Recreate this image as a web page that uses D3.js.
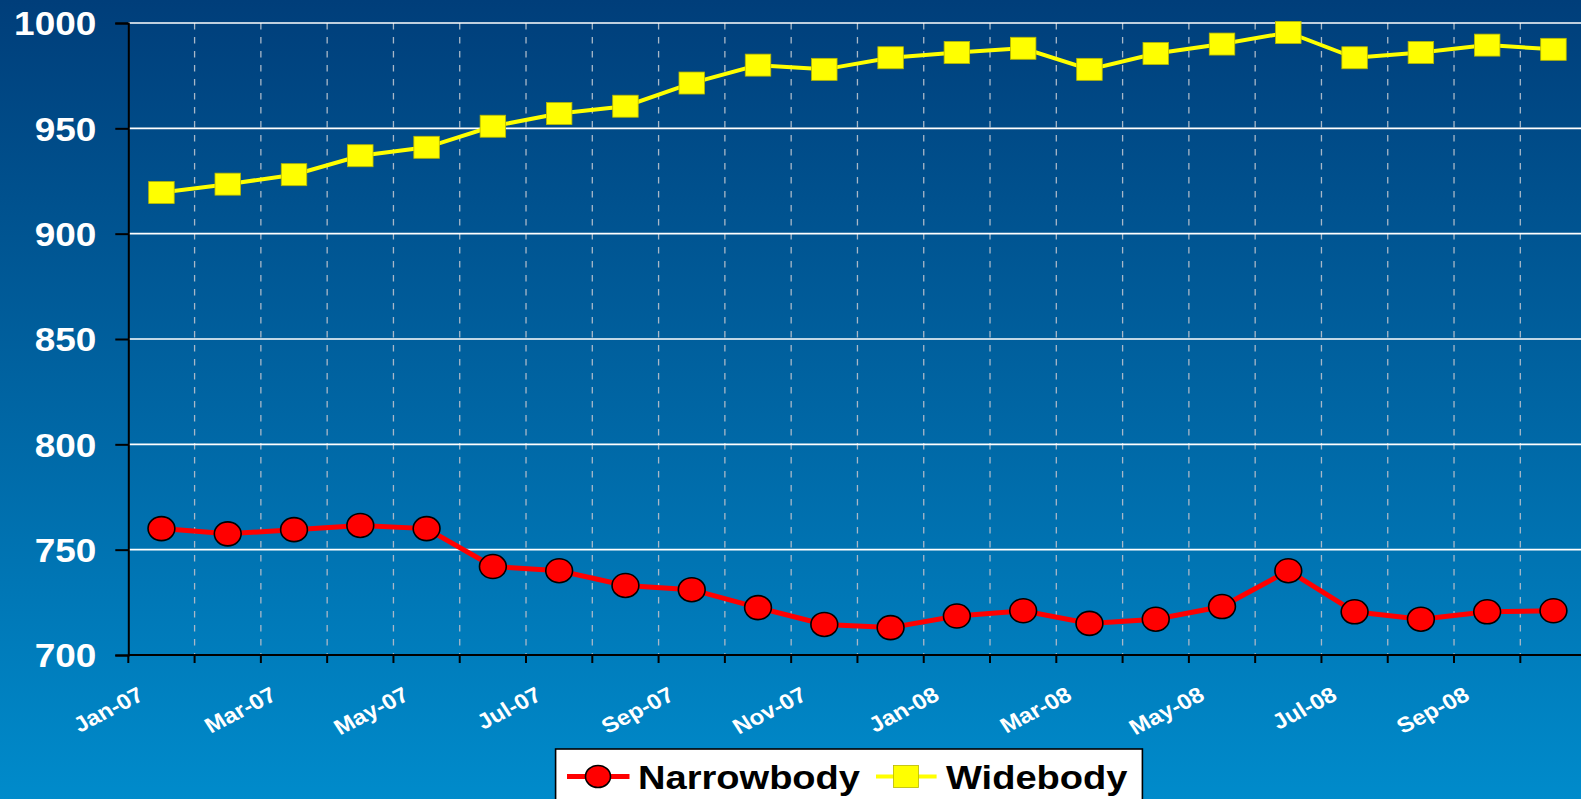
<!DOCTYPE html>
<html>
<head>
<meta charset="utf-8">
<script src="https://cdn.jsdelivr.net/npm/d3@7"></script>
<style>
  html, body { margin: 0; padding: 0; overflow: hidden; background: #0065a3; }
  svg { display: block; }
  text { font-family: "Liberation Sans", Arial, sans-serif; font-weight: bold; }
</style>
</head>
<body>
<svg id="chart" width="1581" height="799"></svg>
<script>
const months = ["Jan-07","Feb-07","Mar-07","Apr-07","May-07","Jun-07","Jul-07","Aug-07","Sep-07","Oct-07","Nov-07","Dec-07",
                "Jan-08","Feb-08","Mar-08","Apr-08","May-08","Jun-08","Jul-08","Aug-08","Sep-08","Oct-08"];
const narrowbody = [760, 757.5, 759.5, 761.5, 760, 742, 740, 733, 731, 722.5, 714.5, 713, 718.5, 721, 715, 717, 723, 740, 720.5, 717, 720.5, 721];
const widebody   = [919.5, 923.5, 928, 937, 941, 951, 957, 960.5, 971.5, 980, 978, 983.5, 986, 988, 978, 985.5, 990, 995.5, 983.5, 986, 989.5, 987.5];
const yTicks = [700, 750, 800, 850, 900, 950, 1000];
const xLabelMonths = ["Jan-07","Mar-07","May-07","Jul-07","Sep-07","Nov-07","Jan-08","Mar-08","May-08","Jul-08","Sep-08"];
const seriesNames = ["Narrowbody", "Widebody"];

const W = 1581, H = 799;
const SX = 1.12; // horizontal stretch of the reference
const svg = d3.select("#chart");

// background gradient
const defs = svg.append("defs");
const grad = defs.append("linearGradient").attr("id","bg").attr("x1",0).attr("y1",0).attr("x2",0).attr("y2",1);
grad.append("stop").attr("offset","0%").attr("stop-color","#003e7a");
grad.append("stop").attr("offset","100%").attr("stop-color","#008bcb");
svg.append("rect").attr("width",W).attr("height",H).attr("fill","url(#bg)");

const pL = 128.3, pR = 1586.6, pT = 23, pB = 655;
const x = d3.scaleBand().domain(months).range([pL, pR]).padding(0);
const y = d3.scaleLinear().domain([700, 1000]).range([pB, pT]);
const cx = d => x(d) + x.bandwidth() / 2;

// vertical dashed gridlines at band boundaries
svg.append("g").selectAll("line").data(months.slice(1)).join("line")
  .attr("x1", d => x(d)).attr("x2", d => x(d))
  .attr("y1", pT).attr("y2", pB)
  .attr("stroke", "#a9b8c8").attr("stroke-width", 1.3)
  .attr("stroke-dasharray", "6.5,7.5");

// horizontal gridlines
svg.append("g").selectAll("line").data(yTicks.filter(v => v > 700)).join("line")
  .attr("x1", pL).attr("x2", W)
  .attr("y1", d => y(d)).attr("y2", d => y(d))
  .attr("stroke", "#ffffff").attr("stroke-width", 1.6);

// y axis
const yAxis = svg.append("g").attr("transform", `translate(${pL},0)`)
  .call(d3.axisLeft(y).tickValues(yTicks).tickSize(13).tickFormat(d3.format("d")));
yAxis.select(".domain").attr("stroke", "#000").attr("stroke-width", 2);
yAxis.selectAll(".tick line").attr("stroke", "#000").attr("stroke-width", 2);
yAxis.selectAll(".tick text")
  .attr("x", null).attr("dy", "0.36em")
  .attr("transform", `translate(-32,0) scale(${SX},1)`)
  .attr("fill", "#fff").attr("font-size", 33).attr("font-family", "Liberation Sans, Arial, sans-serif").attr("font-weight", "bold")
  .attr("text-anchor", "end");

// x axis line and ticks
svg.append("line").attr("x1", pL).attr("x2", W).attr("y1", pB).attr("y2", pB)
  .attr("stroke", "#000").attr("stroke-width", 2);
svg.append("g").selectAll("line").data(months).join("line")
  .attr("x1", d => x(d)).attr("x2", d => x(d))
  .attr("y1", pB).attr("y2", pB + 8)
  .attr("stroke", "#000").attr("stroke-width", 2);

// x labels
svg.append("g").selectAll("text").data(xLabelMonths).join("text")
  .attr("transform", d => `translate(${cx(d) - 16},699) scale(${SX},1) rotate(-30)`)
  .attr("text-anchor", "end")
  .attr("fill", "#fff").attr("font-size", 21.5)
  .text(d => d);

// lines
const lineGen = d3.line().x((d, i) => cx(months[i])).y(d => y(d));
svg.append("path").datum(widebody).attr("d", lineGen)
  .attr("fill", "none").attr("stroke", "#ffff00").attr("stroke-width", 4);
svg.append("path").datum(narrowbody).attr("d", lineGen)
  .attr("fill", "none").attr("stroke", "#ff0000").attr("stroke-width", 5);

// markers
const sqW = 25.5, sqH = 22;
svg.append("g").selectAll("rect").data(widebody).join("rect")
  .attr("x", (d, i) => cx(months[i]) - sqW / 2).attr("y", d => y(d) - sqH / 2)
  .attr("width", sqW).attr("height", sqH)
  .attr("fill", "#ffff00").attr("stroke", "#b8b800").attr("stroke-width", 0.8);
svg.append("g").selectAll("ellipse").data(narrowbody).join("ellipse")
  .attr("cx", (d, i) => cx(months[i])).attr("cy", d => y(d))
  .attr("rx", 13.4).attr("ry", 12)
  .attr("fill", "#ff0000").attr("stroke", "#000").attr("stroke-width", 1.6);

// legend
const lg = svg.append("g");
lg.append("rect").attr("x", 555.6).attr("y", 749).attr("width", 586.8).attr("height", 80)
  .attr("fill", "#fff").attr("stroke", "#000").attr("stroke-width", 1.6);
const ly = 776.5;
lg.append("line").attr("x1", 567).attr("x2", 629.5).attr("y1", ly).attr("y2", ly)
  .attr("stroke", "#ff0000").attr("stroke-width", 5);
lg.append("ellipse").attr("cx", 598).attr("cy", ly).attr("rx", 12.5).attr("ry", 11)
  .attr("fill", "#ff0000").attr("stroke", "#000").attr("stroke-width", 1.6);
lg.append("text").attr("transform", `translate(638,789) scale(${SX},1)`)
  .attr("font-size", 34).attr("fill", "#000").text(seriesNames[0]);
lg.append("line").attr("x1", 876).attr("x2", 936.6).attr("y1", ly).attr("y2", ly)
  .attr("stroke", "#ffff00").attr("stroke-width", 4);
lg.append("rect").attr("x", 906 - 12.5).attr("y", ly - 11).attr("width", 25).attr("height", 22)
  .attr("fill", "#ffff00").attr("stroke", "#b8b800").attr("stroke-width", 0.8);
lg.append("text").attr("transform", `translate(946,789) scale(${SX},1)`)
  .attr("font-size", 34).attr("fill", "#000").text(seriesNames[1]);
</script>
</body>
</html>
